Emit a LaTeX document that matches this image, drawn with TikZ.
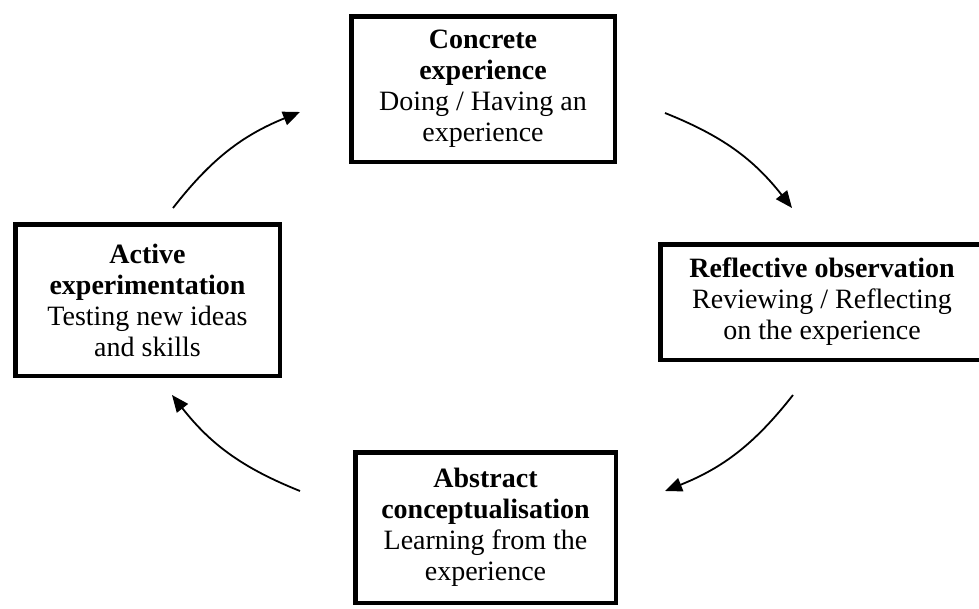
\documentclass[tikz,border=0pt]{standalone}
\usepackage{fontspec}
\setmainfont{Liberation Serif}
\usetikzlibrary{arrows.meta}

\begin{document}
\begin{tikzpicture}[x=1pt,y=1pt,yscale=-1,
  stage/.style={draw,line width=4.5pt,align=center,inner sep=0pt,font=\fontsize{28}{31}\selectfont},
  cyc/.style={line width=1.8pt,-{Triangle[length=17pt,width=14pt]}}]
\useasboundingbox (0,0) rectangle (979,608);

%Shape: Rectangle [concrete]
\node [stage,minimum width=263.5pt,minimum height=145.5pt] (concrete) at (483,89) {\textbf{Concrete}\\\textbf{experience}\\Doing / Having an\\experience};
%Shape: Rectangle [reflective]
\node [stage,minimum width=323.5pt,minimum height=115.5pt] (reflective) at (822,302) {\textbf{Reflective observation}\\Reviewing / Reflecting\\on the experience};
%Shape: Rectangle [abstract]
\node [stage,minimum width=260.5pt,minimum height=150.5pt] (abstract) at (485.5,527.5) {\textbf{Abstract}\\\textbf{conceptualisation}\\Learning from the\\experience};
%Shape: Rectangle [active]
\node [stage,minimum width=264.5pt,minimum height=151.5pt] (active) at (147.5,300) {\textbf{Active}\\\textbf{experimentation}\\Testing new ideas\\and skills};

%Curve Lines
\coordinate (actout) at (173,208);
\coordinate (concin) at (300,112);
\coordinate (concout) at (665,113);
\coordinate (reflin) at (792,208);
\coordinate (reflout) at (793,395);
\coordinate (abstin) at (665,491);
\coordinate (abstout) at (300,491);
\coordinate (actin) at (172,395);

\draw [cyc] (actout) to[bend right=15] (concin);
\draw [cyc] (concout) to[bend right=15] (reflin);
\draw [cyc] (reflout) to[bend right=15] (abstin);
\draw [cyc] (abstout) to[bend right=15] (actin);

\end{tikzpicture}
\end{document}
